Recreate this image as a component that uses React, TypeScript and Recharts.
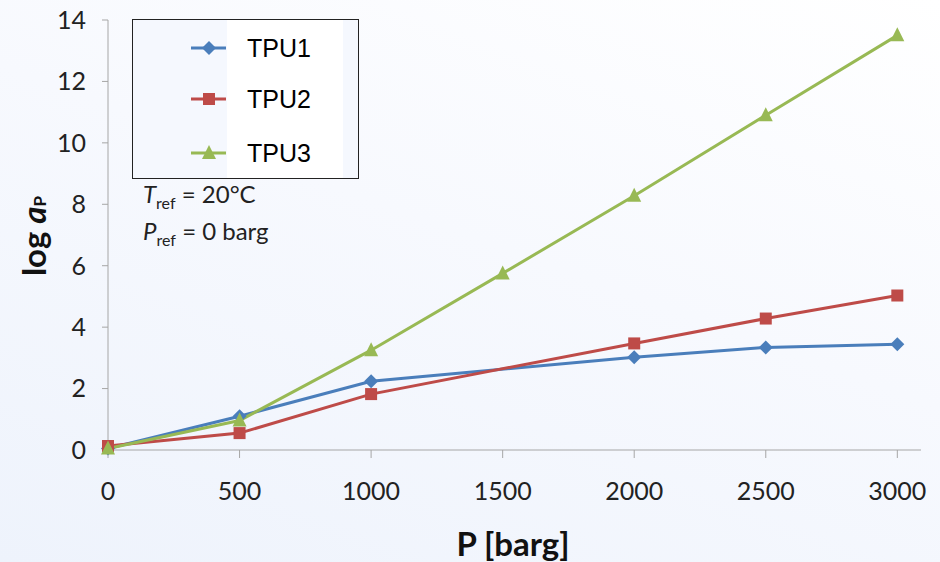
import React from 'react';
import { LineChart, Line, XAxis, YAxis, Label } from 'recharts';

// values
const pressure1 = [0, 500, 1000, 2000, 2500, 3000];
const tpu1 = [0.05, 1.1, 2.24, 3.02, 3.34, 3.44];

const pressure2 = [0, 500, 1000, 2000, 2500, 3000];
const tpu2 = [0.13, 0.55, 1.82, 3.47, 4.28, 5.03];

const pressure3 = [0, 500, 1000, 1500, 2000, 2500, 3000];
const tpu3 = [0.05, 0.96, 3.25, 5.75, 8.28, 10.9, 13.5];

const xTicks = [0, 500, 1000, 1500, 2000, 2500, 3000];
const yTicks = [0, 2, 4, 6, 8, 10, 12, 14];

const seriesNames = ['TPU1', 'TPU2', 'TPU3'];
const colors = ['#4a7ebb', '#be4b48', '#98b954'];

const toRows = (xs: number[], ys: number[]) => xs.map((p, i) => ({ p, v: ys[i] }));

const numFont = 'Lato, "Open Sans", sans-serif';

const Diamond = (props: any) => {
  const { cx, cy } = props;
  if (cx == null || cy == null) return null;
  return <path d={`M${cx},${cy - 7} L${cx + 7},${cy} L${cx},${cy + 7} L${cx - 7},${cy} Z`} fill={colors[0]} />;
};
const Square = (props: any) => {
  const { cx, cy } = props;
  if (cx == null || cy == null) return null;
  return <rect x={cx - 6} y={cy - 6} width={12} height={12} fill={colors[1]} />;
};
const Triangle = (props: any) => {
  const { cx, cy } = props;
  if (cx == null || cy == null) return null;
  return <path d={`M${cx},${cy - 8} L${cx + 7},${cy + 6} L${cx - 7},${cy + 6} Z`} fill={colors[2]} />;
};

const markerFor = (i: number, x: number, y: number) => {
  if (i === 0) return <Diamond cx={x} cy={y} />;
  if (i === 1) return <Square cx={x} cy={y} />;
  return <Triangle cx={x} cy={y} />;
};

const YTitle = () => {
  const cx = 33;
  const cy = 236;
  return (
    <text
      x={cx}
      y={cy}
      transform={`rotate(-90 ${cx} ${cy})`}
      textAnchor="middle"
      dominantBaseline="central"
      fontFamily={numFont}
      fontWeight="bold"
      fontSize={33}
      fill="#111"
    >
      log <tspan fontStyle="italic">a</tspan>
      <tspan fontSize={17} dy={6}>P</tspan>
    </text>
  );
};

const XTitle = () => (
  <text
    x={513}
    y={556}
    textAnchor="middle"
    fontFamily={numFont}
    fontWeight="bold"
    fontSize={33}
    fill="#111"
  >
    P [barg]
  </text>
);

export default function App() {
  return (
    <div
      style={{
        position: 'absolute',
        left: 0,
        top: 0,
        width: 940,
        height: 562,
        background: 'linear-gradient(200deg, #ffffff 0%, #f7f9fe 45%, #eef3fc 100%)',
        overflow: 'hidden',
      }}
    >
      <LineChart width={940} height={562} margin={{ top: 20, right: 19, left: 48, bottom: 62 }}>
        <XAxis
          type="number"
          dataKey="p"
          domain={[0, 3090]}
          ticks={xTicks}
          allowDuplicatedCategory={false}
          stroke="#a6a6a6"
          tickSize={8}
          tick={{ fill: '#222', fontSize: 25, fontFamily: numFont, dy: 22 }}
          height={50}
        >
          <Label content={<XTitle />} />
        </XAxis>
        <YAxis
          type="number"
          domain={[0, 14]}
          ticks={yTicks}
          stroke="#a6a6a6"
          tickSize={6}
          width={60}
          tick={{ fill: '#222', fontSize: 25, fontFamily: numFont, dx: -14 }}
        >
          <Label content={<YTitle />} />
        </YAxis>
        <Line
          data={toRows(pressure1, tpu1)}
          dataKey="v"
          name={seriesNames[0]}
          type="linear"
          stroke={colors[0]}
          strokeWidth={3}
          dot={<Diamond />}
          isAnimationActive={false}
        />
        <Line
          data={toRows(pressure2, tpu2)}
          dataKey="v"
          name={seriesNames[1]}
          type="linear"
          stroke={colors[1]}
          strokeWidth={3}
          dot={<Square />}
          isAnimationActive={false}
        />
        <Line
          data={toRows(pressure3, tpu3)}
          dataKey="v"
          name={seriesNames[2]}
          type="linear"
          stroke={colors[2]}
          strokeWidth={3}
          dot={<Triangle />}
          isAnimationActive={false}
        />
      </LineChart>

      {/* legend box */}
      <div
        style={{
          position: 'absolute',
          left: 132,
          top: 19,
          width: 227,
          height: 160,
          border: '1px solid #222',
          boxSizing: 'border-box',
          background: '#f5f8fe',
        }}
      >
        <div style={{ position: 'absolute', left: 94, top: 0, width: 116, height: 158, background: '#fff' }} />
        {seriesNames.map((name, i) => (
          <div key={name} style={{ position: 'absolute', left: 0, top: [12, 63, 117][i], height: 32, width: 225 }}>
            <svg width={94} height={32} style={{ position: 'absolute', left: 58, top: 0 }}>
              <line x1={0} y1={16} x2={35} y2={16} stroke={colors[i]} strokeWidth={3} />
              {markerFor(i, 18, 16)}
            </svg>
            <span
              style={{
                position: 'absolute',
                left: 114,
                top: 0,
                lineHeight: '32px',
                fontFamily: '"Liberation Sans", Arial, sans-serif',
                fontSize: 25,
                color: '#000',
              }}
            >
              {name}
            </span>
          </div>
        ))}
      </div>

      {/* reference conditions */}
      {[
        { sym: 'T', rest: ' = 20°C', top: 179 },
        { sym: 'P', rest: ' = 0 barg', top: 216 },
      ].map((r) => (
        <div
          key={r.sym}
          style={{
            position: 'absolute',
            left: 143,
            top: r.top,
            fontFamily: numFont,
            fontSize: 24,
            color: '#222',
            lineHeight: '30px',
            whiteSpace: 'nowrap',
          }}
        >
          <i>{r.sym}</i>
          <span style={{ fontSize: 16, position: 'relative', top: 6 }}>ref</span>
          {r.rest}
        </div>
      ))}
    </div>
  );
}
